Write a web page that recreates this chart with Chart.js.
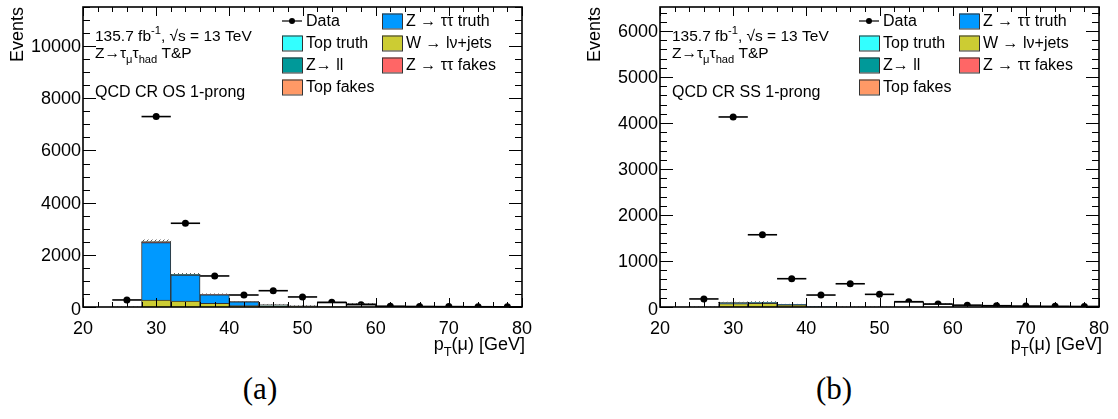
<!DOCTYPE html>
<html>
<head>
<meta charset="utf-8">
<script src="https://cdn.jsdelivr.net/npm/chart.js@4"></script>
<style>
  body { margin: 0; background: #fff; width: 1118px; height: 419px; overflow: hidden; position: relative; }
  .pane { position: absolute; top: 0; width: 540px; height: 360px; }
  #pa { left: 0; }
  #pb { left: 577px; }
  .cap { position: absolute; top: 373px; width: 100px; text-align: center;
         font-family: 'Liberation Serif', 'DejaVu Serif', serif; font-size: 31px; line-height: 32px; }
</style>
</head>
<body>
<div class="pane" id="pa"><canvas id="chartA" width="540" height="360"></canvas></div>
<div class="pane" id="pb"><canvas id="chartB" width="540" height="360"></canvas></div>
<div class="cap" style="left:210px">(a)</div>
<div class="cap" style="left:784px">(b)</div>

<script>
/* 데이터 : bin 중심 (4 GeV bin) */
const binCenters = [26, 30, 34, 38, 42, 46, 50, 54, 58, 62, 66, 70, 74, 78];
const binWidth = 4;

// (a) QCD CR OS 1-prong
const dataOS      = [270, 7300, 3210, 1190, 460, 625, 385, 180, 90, 30, 20, 15, 10, 8];
const wjetsOS     = [0, 265, 225, 140, 50, 12, 6, 4, 2, 1, 0, 0, 0, 0];
const zttTruthOS  = [0, 2200, 1000, 330, 145, 30, 0, 0, 0, 0, 0, 0, 0, 0];
const zttFakesOS  = [0, 10, 6, 3, 1, 0, 0, 0, 0, 0, 0, 0, 0, 0];
const zllOS       = [0, 10, 8, 4, 2, 0, 0, 0, 0, 0, 0, 0, 0, 0];
const topTruthOS  = [0, 15, 10, 5, 3, 1, 0, 0, 0, 0, 0, 0, 0, 0];
const topFakesOS  = [0, 8, 5, 3, 2, 1, 0, 0, 0, 0, 0, 0, 0, 0];
const otherOS     = [0, 0, 0, 0, 0, 50, 35, 165, 125, 20, 8, 5, 3, 2];
const uncOS       = [0, 65, 35, 20, 10, 10, 8, 10, 8, 3, 2, 1, 1, 1];

// (b) QCD CR SS 1-prong
const dataSS      = [175, 4130, 1570, 615, 260, 505, 275, 115, 65, 40, 28, 20, 15, 12];
const wjetsSS     = [0, 75, 80, 45, 0, 0, 0, 0, 0, 0, 0, 0, 0, 0];
const zttTruthSS  = [0, 10, 10, 6, 2, 0, 0, 0, 0, 0, 0, 0, 0, 0];
const zttFakesSS  = [0, 3, 2, 1, 0, 0, 0, 0, 0, 0, 0, 0, 0, 0];
const zllSS       = [0, 3, 2, 1, 0, 0, 0, 0, 0, 0, 0, 0, 0, 0];
const topTruthSS  = [0, 2, 2, 1, 0, 0, 0, 0, 0, 0, 0, 0, 0, 0];
const topFakesSS  = [0, 2, 1, 1, 0, 0, 0, 0, 0, 0, 0, 0, 0, 0];
const otherSS     = [0, 0, 0, 0, 0, 0, 0, 110, 65, 18, 8, 5, 3, 2];
const uncSS       = [0, 10, 20, 5, 0, 0, 0, 3, 3, 1, 1, 0, 0, 0];

// 축 범위 / tick
const xTicks = { min: 20, max: 80, major: 10, minor: 2 };
const yTicksOS = { max: 11500, major: 2000, minor: 500 };
const yTicksSS = { max: 6520, major: 1000, minor: 200 };

// 색상
const colors = {
	zttTruth: '#0099ff',
	topTruth: '#33ffff',
	zll: '#009999',
	topFakes: '#ff9966',
	wjets: '#cccc33',
	zttFakes: '#ff6666'
};

const FONT = "'Liberation Sans', Arial, Helvetica, sans-serif";

function pts(arr) {
	return binCenters.map(function(x, i) { return { x: x, y: arr[i] }; });
}

function hatchPattern() {
	var c = document.createElement('canvas');
	c.width = 4; c.height = 4;
	var g = c.getContext('2d');
	g.strokeStyle = '#555';
	g.lineWidth = 1;
	g.beginPath(); g.moveTo(0, 4); g.lineTo(4, 0); g.stroke();
	return g.createPattern(c, 'repeat');
}

function barSet(label, arr, fill, border) {
	return {
		type: 'bar', label: label, data: pts(arr), stack: 'mc',
		backgroundColor: fill, borderColor: border || '#333', borderWidth: 1,
		barPercentage: 1, categoryPercentage: 1
	};
}

// 위/아래 첨자 텍스트
function richText(ctx, x, y, parts, size) {
	parts.forEach(function(p) {
		var s = (p.sub || p.sup) ? size * 0.72 : size;
		var dy = p.sub ? size * 0.32 : (p.sup ? -size * 0.42 : 0);
		ctx.font = s + 'px ' + FONT;
		ctx.fillText(p.t, x, y + dy);
		x += ctx.measureText(p.t).width;
	});
	return x;
}

function richWidth(ctx, parts, size) {
	var w = 0;
	parts.forEach(function(p) {
		var s = (p.sub || p.sup) ? size * 0.72 : size;
		ctx.font = s + 'px ' + FONT;
		w += ctx.measureText(p.t).width;
	});
	return w;
}

// ROOT 스타일 프레임, tick, 범례, 글자
const rootStyle = {
	id: 'rootStyle',
	afterDatasetsDraw: function(chart, args, info) {
		// 데이터 가로 에러바
		var ctx = chart.ctx, xs = chart.scales.x, ys = chart.scales.y;
		ctx.save();
		ctx.strokeStyle = '#000';
		ctx.lineWidth = 1.6;
		binCenters.forEach(function(c, i) {
			var y = ys.getPixelForValue(info.data[i]);
			ctx.beginPath();
			ctx.moveTo(xs.getPixelForValue(c - binWidth / 2), y);
			ctx.lineTo(xs.getPixelForValue(c + binWidth / 2), y);
			ctx.stroke();
		});
		ctx.restore();
	},
	afterDraw: function(chart, args, info) {
		var ctx = chart.ctx, a = chart.chartArea, xs = chart.scales.x, ys = chart.scales.y;
		ctx.save();

		// tick (안쪽)
		ctx.strokeStyle = '#000';
		ctx.lineWidth = 1;
		ctx.beginPath();
		for (var v = 0; v <= info.yt.max + 0.01; v += info.yt.minor) {
			var py = Math.round(ys.getPixelForValue(v)) + 0.5;
			var len = (v % info.yt.major === 0) ? 13 : 7;
			ctx.moveTo(a.left, py); ctx.lineTo(a.left + len, py);
			ctx.moveTo(a.right, py); ctx.lineTo(a.right - len, py);
		}
		for (var xv = xTicks.min; xv <= xTicks.max + 0.01; xv += xTicks.minor) {
			var px = Math.round(xs.getPixelForValue(xv)) + 0.5;
			var l2 = ((xv - xTicks.min) % xTicks.major === 0) ? 9 : 5;
			ctx.moveTo(px, a.bottom); ctx.lineTo(px, a.bottom - l2);
			ctx.moveTo(px, a.top); ctx.lineTo(px, a.top + l2);
		}
		ctx.stroke();

		// 프레임
		ctx.lineWidth = 1.6;
		ctx.strokeRect(a.left, a.top, a.right - a.left, a.bottom - a.top);

		ctx.fillStyle = '#000';

		// y축 숫자
		ctx.font = '18px ' + FONT;
		ctx.textAlign = 'right';
		ctx.textBaseline = 'middle';
		for (var yv = 0; yv <= info.yt.max; yv += info.yt.major) {
			ctx.fillText(String(yv), a.left - 2, ys.getPixelForValue(yv) + (yv === 0 ? 3 : 1));
		}

		ctx.textBaseline = 'alphabetic';
		ctx.textAlign = 'left';

		// 라벨
		richText(ctx, 95, 41, [
			{ t: '135.7 fb' }, { t: '-1', sup: true }, { t: ', \u221As = 13 TeV' }
		], 15.5);
		richText(ctx, 95, 58, [
			{ t: 'Z\u2192\u03C4' }, { t: '\u03BC', sub: true }, { t: '\u03C4' }, { t: 'had', sub: true }, { t: ' T&P' }
		], 15.5);
		ctx.font = '16px ' + FONT;
		ctx.fillText(info.region, 95, 97);

		// x축 제목
		var xt = [{ t: 'p' }, { t: 'T', sub: true }, { t: '(\u03BC) [GeV]' }];
		richText(ctx, 525 - richWidth(ctx, xt, 18), 350, xt, 18);

		// y축 제목
		ctx.save();
		ctx.translate(18, 7);
		ctx.rotate(-Math.PI / 2);
		ctx.textAlign = 'right';
		ctx.textBaseline = 'middle';
		ctx.font = '18px ' + FONT;
		ctx.fillText('Events', 0, 0);
		ctx.restore();

		// 범례
		var rows = [21, 43, 65, 87];
		var legend1 = [
			{ label: 'Data', data: true },
			{ label: 'Top truth', color: colors.topTruth },
			{ label: 'Z\u2192 ll', color: colors.zll },
			{ label: 'Top fakes', color: colors.topFakes }
		];
		var legend2 = [
			{ label: 'Z \u2192 \u03C4\u03C4 truth', color: colors.zttTruth },
			{ label: 'W \u2192 l\u03BD+jets', color: colors.wjets },
			{ label: 'Z \u2192 \u03C4\u03C4 fakes', color: colors.zttFakes }
		];
		ctx.font = '16px ' + FONT;
		ctx.textBaseline = 'middle';
		function entry(e, bx, y) {
			if (e.data) {
				ctx.strokeStyle = '#000'; ctx.lineWidth = 1.2;
				ctx.beginPath(); ctx.moveTo(bx, y); ctx.lineTo(bx + 20, y); ctx.stroke();
				ctx.beginPath(); ctx.arc(bx + 10, y, 3, 0, Math.PI * 2); ctx.fill();
			} else {
				ctx.fillStyle = e.color;
				ctx.fillRect(bx, y - 7.5, 20, 15);
				ctx.strokeStyle = '#333'; ctx.lineWidth = 1;
				ctx.strokeRect(bx + 0.5, y - 7, 20, 15);
				ctx.fillStyle = '#000';
			}
			ctx.fillText(e.label, bx + 24, y + 1);
		}
		legend1.forEach(function(e, i) { entry(e, 282, rows[i]); });
		legend2.forEach(function(e, i) { entry(e, 382, rows[i]); });

		ctx.restore();
	}
};

function makeChart(id, info, sets) {
	var hatch = hatchPattern();
	var datasets = [
		barSet('W \u2192 l\u03BD+jets', sets.wjets, colors.wjets),
		barSet('Z \u2192 \u03C4\u03C4 truth', sets.zttTruth, colors.zttTruth),
		barSet('Z \u2192 \u03C4\u03C4 fakes', sets.zttFakes, colors.zttFakes),
		barSet('Z\u2192 ll', sets.zll, colors.zll),
		barSet('Top truth', sets.topTruth, colors.topTruth),
		barSet('Top fakes', sets.topFakes, colors.topFakes),
		barSet('other', sets.other, '#ffffff'),
		{ type: 'bar', label: 'unc', data: pts(sets.unc), stack: 'mc',
		  backgroundColor: hatch, borderWidth: 0, barPercentage: 1, categoryPercentage: 1 },
		{ type: 'line', label: 'Data', data: pts(info.data), stack: 'data',
		  showLine: false, pointRadius: 3.5, pointBorderWidth: 0,
		  pointBackgroundColor: '#000', borderColor: '#000' }
	];

	return new Chart(document.getElementById(id), {
		type: 'bar',
		data: { datasets: datasets },
		options: {
			responsive: false,
			animation: false,
			layout: { padding: { top: 7, right: 18, left: 0, bottom: 0 } },
			plugins: { legend: { display: false }, tooltip: { enabled: false }, rootStyle: info },
			scales: {
				x: {
					type: 'linear', stacked: true, offset: false,
					min: xTicks.min, max: xTicks.max,
					grid: { display: false }, border: { display: false },
					ticks: { stepSize: xTicks.major, color: '#000', padding: 3, autoSkip: false,
					         maxRotation: 0, font: { family: FONT, size: 18 } },
					afterFit: function(s) { s.height = 53; }
				},
				y: {
					type: 'linear', stacked: true,
					min: 0, max: info.yt.max,
					grid: { display: false }, border: { display: false },
					ticks: { display: false, stepSize: info.yt.major },
					afterFit: function(s) { s.width = 83; }
				}
			}
		},
		plugins: [rootStyle]
	});
}

makeChart('chartA', { region: 'QCD CR OS 1-prong', data: dataOS, yt: yTicksOS }, {
	wjets: wjetsOS, zttTruth: zttTruthOS, zttFakes: zttFakesOS, zll: zllOS,
	topTruth: topTruthOS, topFakes: topFakesOS, other: otherOS, unc: uncOS
});

makeChart('chartB', { region: 'QCD CR SS 1-prong', data: dataSS, yt: yTicksSS }, {
	wjets: wjetsSS, zttTruth: zttTruthSS, zttFakes: zttFakesSS, zll: zllSS,
	topTruth: topTruthSS, topFakes: topFakesSS, other: otherSS, unc: uncSS
});
</script>
</body>
</html>
